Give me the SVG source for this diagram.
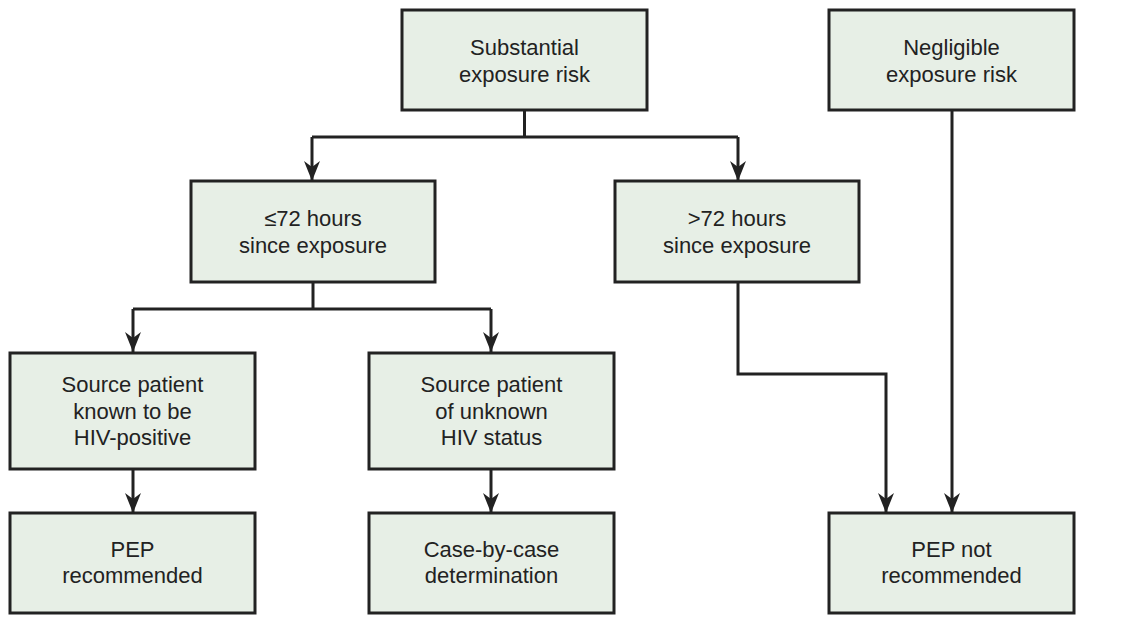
<svg xmlns="http://www.w3.org/2000/svg" width="1145" height="620" viewBox="0 0 1145 620">
<style>
.box{fill:#e7efe6;stroke:#222;stroke-width:3}
.t{font-family:"Liberation Sans",Arial,sans-serif;font-size:22px;fill:#222;text-anchor:middle}
.c{fill:none;stroke:#222;stroke-width:3}
</style>
<defs>
<marker id="a" markerWidth="20" markerHeight="16" refX="20" refY="8" orient="auto" markerUnits="userSpaceOnUse" viewBox="0 0 20 16">
<path d="M0,0 L6,8 L0,16 L20,8 Z" fill="#222"/>
</marker>
</defs>
<rect width="1145" height="620" fill="#fff"/>
<g id="connectors">
<path class="c" d="M524.5,110 V137"/>
<path class="c" d="M312,137 H738"/>
<path class="c" d="M312,137 V181" marker-end="url(#a)"/>
<path class="c" d="M738,137 V181" marker-end="url(#a)"/>
<path class="c" d="M313,282 V309"/>
<path class="c" d="M133,309 H491"/>
<path class="c" d="M133,309 V352" marker-end="url(#a)"/>
<path class="c" d="M491,309 V352" marker-end="url(#a)"/>
<path class="c" d="M133,469 V513" marker-end="url(#a)"/>
<path class="c" d="M491,469 V513" marker-end="url(#a)"/>
<path class="c" d="M738,282 V374 H886 V513" marker-end="url(#a)"/>
<path class="c" d="M952,110 V513" marker-end="url(#a)"/>
</g>
<g id="n1"><rect class="box" x="402" y="10" width="245" height="100"/><text class="t" x="524.5" y="55">Substantial</text><text class="t" x="524.5" y="82">exposure risk</text></g>
<g id="n2"><rect class="box" x="829" y="10" width="245" height="100"/><text class="t" x="951.5" y="55">Negligible</text><text class="t" x="951.5" y="82">exposure risk</text></g>
<g id="n3"><rect class="box" x="191" y="181" width="244" height="101"/><text class="t" x="313" y="226">≤72 hours</text><text class="t" x="313" y="253">since exposure</text></g>
<g id="n4"><rect class="box" x="615" y="181" width="244" height="101"/><text class="t" x="737" y="226">&gt;72 hours</text><text class="t" x="737" y="253">since exposure</text></g>
<g id="n5"><rect class="box" x="10" y="353" width="245" height="116"/><text class="t" x="132.5" y="392">Source patient</text><text class="t" x="132.5" y="419">known to be</text><text class="t" x="132.5" y="445">HIV-positive</text></g>
<g id="n6"><rect class="box" x="369" y="353" width="245" height="116"/><text class="t" x="491.5" y="392">Source patient</text><text class="t" x="491.5" y="419">of unknown</text><text class="t" x="491.5" y="445">HIV status</text></g>
<g id="n7"><rect class="box" x="10" y="513" width="245" height="100"/><text class="t" x="132.5" y="557">PEP</text><text class="t" x="132.5" y="583">recommended</text></g>
<g id="n8"><rect class="box" x="369" y="513" width="245" height="100"/><text class="t" x="491.5" y="557">Case-by-case</text><text class="t" x="491.5" y="583">determination</text></g>
<g id="n9"><rect class="box" x="829" y="513" width="245" height="100"/><text class="t" x="951.5" y="557">PEP not</text><text class="t" x="951.5" y="583">recommended</text></g>
</svg>
